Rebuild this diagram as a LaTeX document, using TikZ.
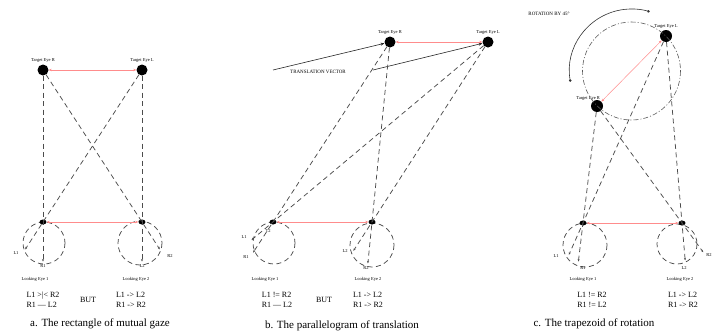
\documentclass[tikz,border=0pt]{standalone}
\usepackage{fontspec}
\setmainfont{Liberation Serif}
\usetikzlibrary{calc, positioning, arrows.meta, shapes.geometric}

\begin{document}
\begin{tikzpicture}[x=1pt, y=-1pt,
	target/.style={circle, fill=black, inner sep=0pt, minimum size=11pt},
	looker/.style={ellipse, fill=black, inner sep=0pt, minimum width=7pt, minimum height=5pt},
	ring/.style={dash pattern=on 5pt off 3.5pt, black!70, line width=0.75pt},
	gazeend/.style={dash pattern=on 5pt off 3.5pt, black!70, line width=0.75pt, -{Stealth[length=2.5pt,width=2pt]}},
	spin/.style={dash pattern=on 5pt off 2pt on 1pt off 2pt, black!65, line width=0.6pt},
	turn/.style={black!80, line width=0.6pt, {Circle[length=2.5pt]}-{Circle[length=2.5pt]}},
	vec/.style={black!85, line width=0.6pt, -{Stealth[length=4pt,width=3pt]}},
	redlink/.style={red!45, line width=0.5pt, {Stealth[length=3pt,width=2.5pt]}-{Stealth[length=3pt,width=2.5pt]}},
	eyetext/.style={font=\fontsize{4.5}{5}\selectfont, inner sep=0.5pt},
	reltext/.style={font=\fontsize{8}{10}\selectfont, align=left, inner sep=0pt},
	captext/.style={font=\fontsize{11}{13}\selectfont, inner sep=0pt}]
	\useasboundingbox (0,0) rectangle (713,335);

	% a. The rectangle of mutual gaze
	\draw[ring] (44,243) circle (21);
	\draw[ring] (140,243) circle (22);
	\node[target] (taR) at (43,70) {};
	\node[target] (taL) at (142,70) {};
	\node[looker] (ea1) at (43,222) {};
	\node[looker] (ea2) at (142,222) {};
	\node[eyetext, above=1pt of taR] (naR) {Target Eye R};
	\node[eyetext, above=1pt of taL] (naL) {Target Eye L};
	\coordinate (aR1) at ($(taR)!1.26!(ea1)$);
	\coordinate (aL2) at ($(taL)!1.26!(ea2)$);
	\coordinate (aL1) at ($(taL)!1.18!(ea1)$);
	\coordinate (aR2) at ($(taR)!1.18!(ea2)$);
	\draw[gazeend] (taR) -- (aR1);
	\draw[gazeend] (taL) -- (aL2);
	\draw[gazeend] (taL) -- (aL1);
	\draw[gazeend] (taR) -- (aR2);
	\draw[redlink] (taR) -- (taL);
	\draw[redlink] (ea1) -- (ea2);
	\node[eyetext] (maL1) at (16,253) {L1};
	\node[eyetext] (maR1) at (43,266) {R1};
	\node[eyetext] (maL2) at (142,266) {L2};
	\node[eyetext] (maR2) at (170,256) {R2};
	\node[eyetext] (la1) at (35,279) {Looking Eye 1};
	\node[eyetext] (la2) at (136,279) {Looking Eye 2};
	\node[reltext] (ra1) at (43,300) {L1 >|< R2\\R1 --- L2};
	\node[reltext] (ba) at (88,300) {BUT};
	\node[reltext] (ra2) at (131,300) {L1 -> L2\\R1 -> R2};
	\node[captext] (ca) at (100,324) {a. The rectangle of mutual gaze};

	% b. The parallelogram of translation
	\draw[ring] (274,243) circle (21);
	\draw[ring] (372,245) circle (22);
	\node[target] (tbR) at (390,42) {};
	\node[target] (tbL) at (488,42) {};
	\node[looker] (eb1) at (273,222) {};
	\node[looker] (eb2) at (372,222) {};
	\node[eyetext, above=1pt of tbR] (nbR) {Target Eye R};
	\node[eyetext, above=1pt of tbL] (nbL) {Target Eye L};
	\coordinate (tv1) at (273,70);
	\coordinate (tv2) at (373,70);
	\draw[vec] (tv1) -- (tbR);
	\draw[vec] (tv2) -- (tbL);
	\node[eyetext, font=\fontsize{5}{6}\selectfont] (ntv) at (318,72) {TRANSLATION VECTOR};
	\coordinate (bR1) at ($(tbR)!1.17!(eb1)$);
	\coordinate (bL1) at ($(tbL)!1.10!(eb1)$);
	\coordinate (bR2) at ($(tbR)!1.23!(eb2)$);
	\coordinate (bL2) at ($(tbL)!1.16!(eb2)$);
	\draw[gazeend] (tbR) -- (bR1);
	\draw[gazeend] (tbL) -- (bL1);
	\draw[gazeend] (tbR) -- (bR2);
	\draw[gazeend] (tbL) -- (bL2);
	\draw[redlink] (tbR) -- (tbL);
	\draw[redlink] (eb1) -- (eb2);
	\node[eyetext] (mbL1) at (244,237) {L1};
	\node[eyetext] (mbR1) at (246,257) {R1};
	\node[eyetext] (mbT2) at (268,231) {T2};
	\node[eyetext] (mbL2) at (345,251) {L2};
	\node[eyetext] (mbR2) at (366,268) {R2};
	\node[eyetext] (lb1) at (265,279) {Looking Eye 1};
	\node[eyetext] (lb2) at (368,279) {Looking Eye 2};
	\node[reltext] (rb1) at (277,300) {L1 != R2\\R1 --- L2};
	\node[reltext] (bb) at (324,300) {BUT};
	\node[reltext] (rb2) at (368,300) {L1 -> L2\\R1 -> R2};
	\node[captext] (cb) at (342,326) {b. The parallelogram of translation};

	% c. The trapezoid of rotation
	\draw[ring] (585,245) circle (22);
	\draw[ring] (677,244) circle (20);
	\node[target, minimum size=12pt] (tcL) at (666,36) {};
	\node[target, minimum size=12pt] (tcR) at (597,106) {};
	\node[looker] (ec1) at (583,223) {};
	\node[looker] (ec2) at (682,223) {};
	\node[eyetext, above=1pt of tcL] (ncL) {Target Eye L};
	\node[eyetext, above left=0pt and -8pt of tcR] (ncR) {Target Eye R};
	\coordinate (cc) at ($(tcR)!0.5!(tcL)$);
	\draw[spin] (cc) circle (49);
	\draw[turn] ($(cc)+(170:62)$) arc[start angle=170, end angle=287, radius=62];
	\node[eyetext, font=\fontsize{5}{6}\selectfont] (nrot) at (549,14) {ROTATION BY 45°};
	\coordinate (cR1) at ($(tcR)!1.33!(ec1)$);
	\coordinate (cR2) at ($(tcR)!1.25!(ec2)$);
	\coordinate (cL2) at ($(tcL)!1.2!(ec2)$);
	\coordinate (cL1) at ($(tcL)!1.17!(ec1)$);
	\draw[gazeend] (tcR) -- (cR1);
	\draw[gazeend] (tcR) -- (cR2);
	\draw[gazeend] (tcL) -- (cL2);
	\draw[gazeend] (tcL) -- (cL1);
	\draw[redlink] (tcR) -- (tcL);
	\draw[redlink] (ec1) -- (ec2);
	\node[eyetext] (mcL1) at (556,256) {L1};
	\node[eyetext] (mcR1) at (583,268) {R1};
	\node[eyetext] (mcL2) at (684,268) {L2};
	\node[eyetext] (mcR2) at (709,255) {R2};
	\node[eyetext] (lc1) at (583,279) {Looking Eye 1};
	\node[eyetext] (lc2) at (680,279) {Looking Eye 2};
	\node[reltext] (rc1) at (592,300) {L1 != R2\\R1 != L2};
	\node[reltext] (rc2) at (683,300) {L1 -> L2\\R1 -> R2};
	\node[captext] (cc3) at (594,324) {c. The trapezoid of rotation};
\end{tikzpicture}
\end{document}
